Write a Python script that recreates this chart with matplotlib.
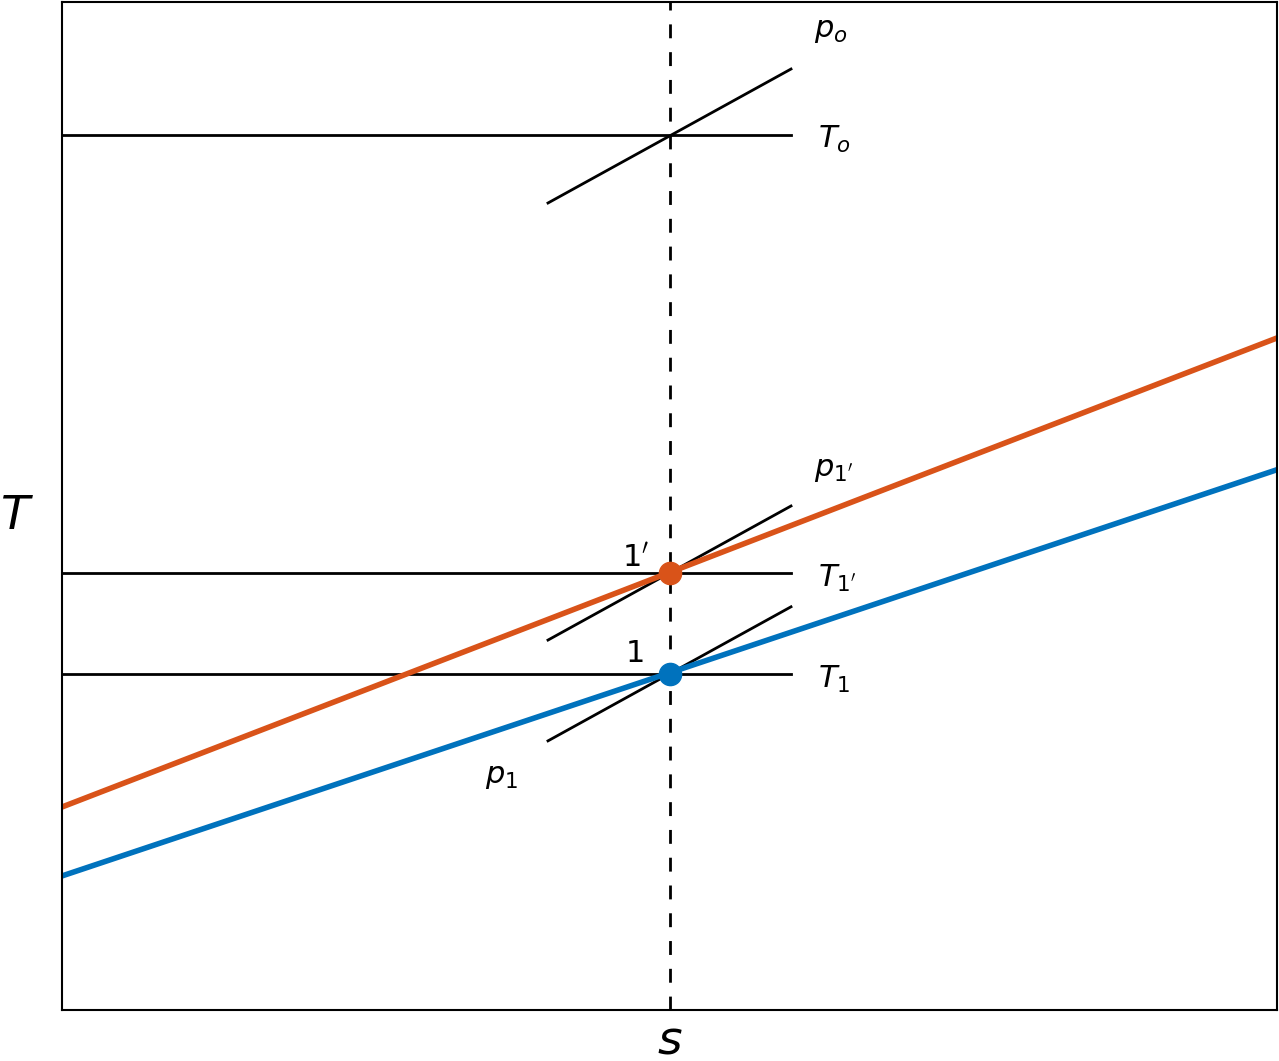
import matplotlib
matplotlib.use('Agg')
import matplotlib.pyplot as plt

plt.rcParams['mathtext.default'] = 'it'

# line endpoints in axis units (0..1)
s0 = 0.5
T_o, T_1p, T_1 = 0.868, 0.4335, 0.3333
iso_x = [0.4, 0.6]
p_o = [0.8006, 0.9335]
p_1p = [0.367, 0.5]
p_1 = [0.267, 0.4]
orange_y = [0.2014, 0.6667]
blue_y = [0.133, 0.536]

fig = plt.figure(figsize=(12.79, 10.61), dpi=100)
ax = fig.add_axes([62/1279, 51/1061, 1215/1279, 1008/1061])
ax.set_xlim(0, 1)
ax.set_ylim(0, 1)
ax.set_xticks([])
ax.set_yticks([])
for sp in ax.spines.values():
    sp.set_linewidth(1.5)

ax.axvline(s0, color='k', ls=(0, (5, 5)), lw=2)
for t in (T_o, T_1p, T_1):
    ax.plot([0, 0.6], [t, t], color='k', lw=2)
for p in (p_o, p_1p, p_1):
    ax.plot(iso_x, p, color='k', lw=2)
ax.plot([0, 1], orange_y, color='#d95319', lw=4)
ax.plot([0, 1], blue_y, color='#0072bd', lw=4)
ax.plot(s0, T_1p, 'o', color='#d95319', ms=16)
ax.plot(s0, T_1, 'o', color='#0072bd', ms=16)

fs = 22
ax.text(0.619, 0.965, '$p_o$', fontsize=fs)
ax.text(0.622, 0.855, '$T_o$', fontsize=fs)
ax.text(0.619, 0.53, r"$p_{\mathit{1}'}$", fontsize=fs)
ax.text(0.622, 0.42, r"$T_{\mathit{1}'}$", fontsize=fs)
ax.text(0.622, 0.32, r'$T_{\mathit{1}}$', fontsize=fs)
ax.text(0.348, 0.225, r'$p_{\mathit{1}}$', fontsize=fs)
ax.text(0.461, 0.44, r"$\mathit{1}'$", fontsize=fs)
ax.text(0.463, 0.345, r'$\mathit{1}$', fontsize=fs)

ax.set_xlabel('$s$', fontsize=34, labelpad=0)
ax.xaxis.set_label_coords(0.5, -0.008)
ax.xaxis.label.set_va('top')
ax.set_ylabel('$T$', fontsize=34, rotation=0)
ax.yaxis.set_label_coords(-0.037, 0.49)
ax.yaxis.label.set_va('center')

fig.savefig('out.png', dpi=100)
